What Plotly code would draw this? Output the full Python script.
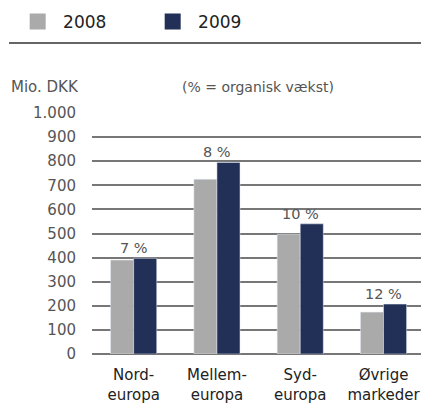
import plotly.graph_objects as go

# data
regions = ["Nord-<br>europa", "Mellem-<br>europa", "Syd-<br>europa", "Øvrige<br>markeder"]
years = ["2008", "2009"]
sales_2008 = [390, 725, 497, 174]
sales_2009 = [397, 795, 540, 207]
growth = ["7 %", "8 %", "10 %", "12 %"]
y_ticks = [0, 100, 200, 300, 400, 500, 600, 700, 800, 900, 1000]
y_ticklabels = ["0", "100", "200", "300", "400", "500", "600", "700", "800", "900", "1.000"]

grey = "#aaaaaa"
navy = "#222f57"
font = "DejaVu Sans"

fig = go.Figure()
fig.add_trace(go.Bar(x=regions, y=sales_2008, name=years[0], marker_color=grey, showlegend=False))
fig.add_trace(go.Bar(x=regions, y=sales_2009, name=years[1], marker_color=navy, showlegend=False))

# legend entries with bigger square symbols
for name, col in zip(years, [grey, navy]):
    fig.add_trace(go.Scatter(x=[None], y=[None], mode="markers", name="\u00a0" + name,
                             marker=dict(symbol="square", size=16, color=col)))

# growth labels above each group
for reg, a, b, g in zip(regions, sales_2008, sales_2009, growth):
    fig.add_annotation(x=reg, y=max(a, b), text=g, showarrow=False, yanchor="bottom",
                       yshift=0, font=dict(family=font, size=14.5, color="#555"))

fig.add_annotation(text="Mio. DKK", xref="paper", yref="paper", x=-83/329, y=1.108,
                   xanchor="left", yanchor="middle", showarrow=False,
                   font=dict(family=font, size=15, color="#555"))
fig.add_annotation(text="(% = organisk vækst)", xref="paper", yref="paper", x=(258-92)/329, y=1.108,
                   xanchor="center", yanchor="middle", showarrow=False,
                   font=dict(family=font, size=14, color="#555"))

# rule under the legend
fig.add_shape(type="line", xref="paper", yref="paper", x0=-83/329, x1=1, y0=1.29, y1=1.29,
              line=dict(color="#333", width=1.5))

fig.update_layout(
    width=421, height=403,
    margin=dict(l=92, r=0, t=113, b=49),
    plot_bgcolor="white", paper_bgcolor="white",
    barmode="group", bargap=0.446, bargroupgap=0,
    font=dict(family=font, size=14, color="#555"),
    legend=dict(orientation="h", xref="container", yref="container", x=0.042, y=0.99,
                xanchor="left", yanchor="top", entrywidth=90, entrywidthmode="pixels",
                itemwidth=30, bgcolor="rgba(0,0,0,0)",
                font=dict(family=font, size=17, color="#222"), itemclick=False),
    xaxis=dict(range=[-0.5, 3.45], showgrid=False, showline=False, ticks="", automargin=False,
               ticklabelstandoff=10, tickfont=dict(family=font, size=15, color="#222")),
    yaxis=dict(range=[0, 1000], tickvals=y_ticks, ticktext=y_ticklabels, showgrid=True,
               gridcolor="#777", gridwidth=1.5, zeroline=True, zerolinecolor="#777",
               zerolinewidth=1.5, ticks="", ticklabelstandoff=15, automargin=False,
               tickfont=dict(family=font, size=15, color="#555")),
)

fig.write_html("out.html", config={"displayModeBar": False},
               post_script="document.body.style.margin='0';")
